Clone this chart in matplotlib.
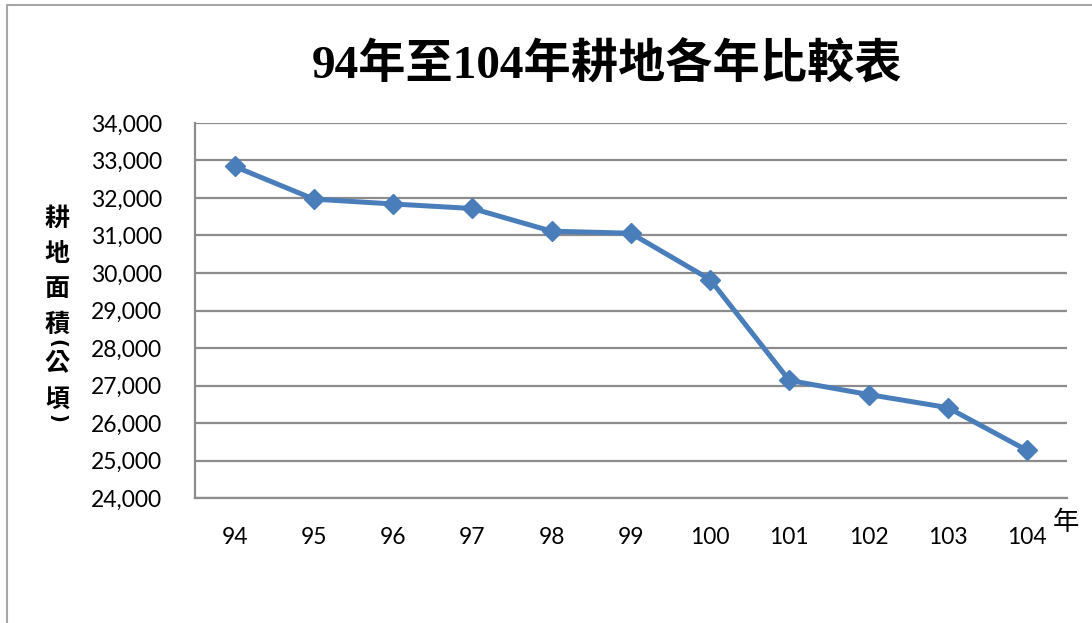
import matplotlib.pyplot as plt
from matplotlib.patches import Rectangle
from matplotlib.ticker import FuncFormatter

years = ["94", "95", "96", "97", "98", "99", "100", "101", "102", "103", "104"]
area = [32840, 31970, 31840, 31720, 31115, 31060, 29825, 27135, 26760, 26410, 25270]
title = "94年至104年耕地各年比較表"
ylabel_chars = ["耕", "地", "面", "積", "(", "公", "頃", ")"]

fig = plt.figure(figsize=(10.92, 6.23), dpi=100)
ax = fig.add_axes([0.1786, 0.2006, 0.7982, 0.602])

# outer frame of the chart area
fig.patches.append(Rectangle((0.0065, -0.05), 1.1, 1.042, transform=fig.transFigure,
                             fill=False, edgecolor="#a6a6a6", linewidth=1.5))

x = list(range(len(years)))
ax.plot(x, area, color="#4a7ebb", linewidth=3.6, marker="D", markersize=10,
        markerfacecolor="#4a7ebb", markeredgecolor="#4a7ebb", zorder=3)

ax.set_xlim(-0.5, len(years) - 0.5)
ax.set_ylim(24000, 34000)
ax.set_yticks(range(24000, 34001, 1000))
ax.yaxis.set_major_formatter(FuncFormatter(lambda v, p: f"{int(v):,}"))
ax.set_xticks(x)
ax.set_xticklabels(years)
ax.grid(axis="y", color="#8c8c8c", linewidth=1.6)
ax.set_axisbelow(True)

for s in ["top", "right"]:
    ax.spines[s].set_visible(False)
ax.spines["left"].set_color("#8c8c8c")
ax.spines["left"].set_linewidth(1.6)
ax.spines["bottom"].set_color("#8c8c8c")
ax.spines["bottom"].set_linewidth(1.6)

ax.tick_params(axis="both", length=0, labelsize=16.5)
ax.tick_params(axis="y", pad=24)
ax.tick_params(axis="x", pad=21)
for lab in ax.get_xticklabels() + ax.get_yticklabels():
    lab.set_fontfamily("Lato")

fig.text(0.556, 0.895, title, ha="center", va="center", fontsize=34, fontweight="bold",
         family=["Liberation Serif", "Noto Sans CJK TC"])

# vertical stacked y label, brackets turned to lie flat
ypos = [219, 254, 289, 325, 343, 363, 400, 418]
for ch, yp in zip(ylabel_chars, ypos):
    if ch in "()":
        fig.text(57 / 1092, 1 - yp / 623, ch, ha="center", va="center", fontsize=14,
                 fontweight="bold", rotation=-90, family="DejaVu Sans")
    else:
        fig.text(57 / 1092, 1 - yp / 623, ch, ha="center", va="center", fontsize=18,
                 fontweight="bold", family=["Noto Sans CJK TC", "DejaVu Sans"])

fig.text(1066 / 1092, 1 - 523 / 623, "年", ha="center", va="center", fontsize=19,
         family=["Noto Sans CJK TC", "DejaVu Sans"])

fig.savefig("out.png", dpi=100)
